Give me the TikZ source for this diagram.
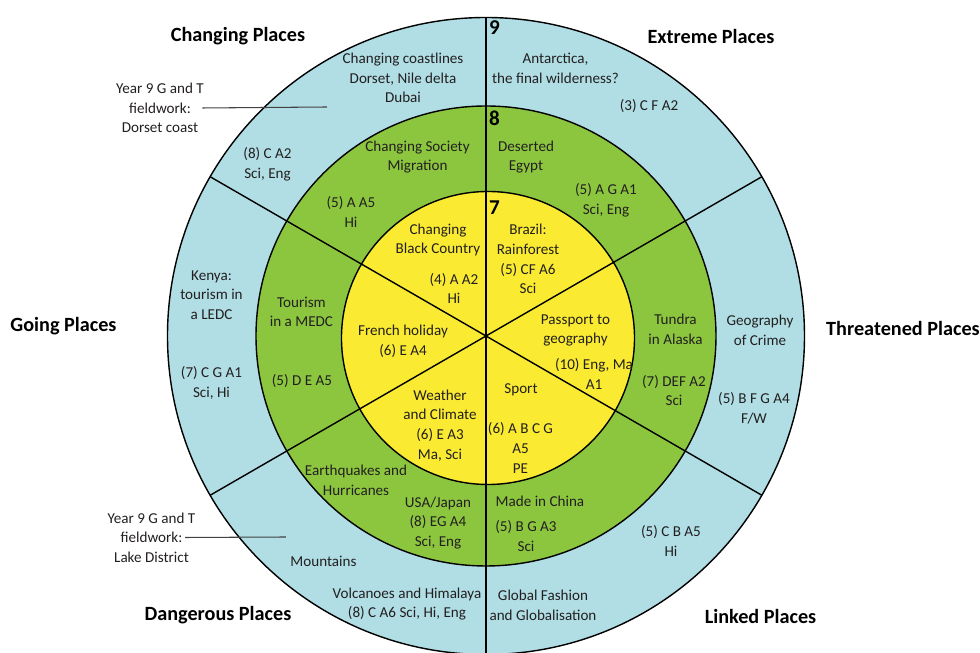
\documentclass[tikz,border=0pt]{standalone}
\usepackage{fontspec}
\setmainfont{Carlito}
\usepackage{tikz}
\usetikzlibrary{positioning}

\definecolor{ringblue}{RGB}{176,222,228}
\definecolor{ringgreen}{RGB}{140,198,63}
\definecolor{ringyellow}{RGB}{250,235,50}
\definecolor{inkgrey}{RGB}{35,31,32}

\begin{document}
\begin{tikzpicture}[lbl/.style={align=center, inner sep=0pt, text=inkgrey, font=\fontsize{8.6}{11.2}\selectfont},
  place/.style={inner sep=0pt, font=\fontsize{11.5}{14}\selectfont\bfseries},
  year/.style={anchor=west, inner sep=1pt, font=\fontsize{12}{14}\selectfont\bfseries}]

\useasboundingbox (-9.72,-6.34) rectangle (9.88,6.72);

% the three rings
\draw[line width=0.8pt, fill=ringblue] (0,0) circle (6.37);
\draw[line width=0.8pt, fill=ringgreen] (0,0) circle (4.6);
\draw[line width=0.8pt, fill=ringyellow] (0.04,-0.04) circle (2.93);

% spokes
\draw[line width=0.8pt] (90:6.37) -- (270:6.37);
\draw[line width=0.8pt] (150:6.37) -- (-30:6.37);
\draw[line width=0.8pt] (30:6.37) -- (210:6.37);

\node[year] at (0.02,6.16) (y9) {9};
\node[year] at (0.02,4.36) (y8) {8};
\node[year] at (0.02,2.56) (y7) {7};

\node[place] at (-4.96,5.99) (tc) {Changing Places};
\node[place] at (4.5,6.0) (te) {Extreme Places};
\node[place] at (-8.45,0.19) (tg) {Going Places};
\node[place] at (8.34,0.16) (tt) {Threatened Places};
\node[place] at (-5.36,-5.58) (td) {Dangerous Places};
\node[place] at (5.49,-5.61) (tl) {Linked Places};

% outer ring
\node[lbl] at (-1.66,5.16) (b1) {Changing coastlines\\Dorset, Nile delta\\Dubai};
\node[lbl] at (-4.37,3.44) (b2) {(8) C A2\\Sci, Eng};
\node[lbl] at (1.39,5.35) (b3) {Antarctica,\\the final wilderness?};
\node[lbl] at (3.26,4.6) (b4) {(3) C F A2};
\node[lbl] at (-5.49,0.82) (b5) {Kenya:\\tourism in\\a LEDC};
\node[lbl] at (-5.49,-0.94) (b6) {(7) C G A1\\Sci, Hi};
\node[lbl] at (5.48,0.12) (b7) {Geography\\of Crime};
\node[lbl] at (5.36,-1.44) (b8) {(5) B F G A4\\F/W};
\node[lbl] at (-3.25,-4.51) (b9) {Mountains};
\node[lbl] at (-1.58,-5.36) (b10) {Volcanoes and Himalaya\\(8) C A6 Sci, Hi, Eng};
\node[lbl] at (1.14,-5.38) (b11) {Global Fashion\\and Globalisation};
\node[lbl] at (3.7,-4.1) (b12) {(5) C B A5\\Hi};

% middle ring
\node[lbl] at (-1.37,3.58) (g1) {Changing Society\\Migration};
\node[lbl] at (-2.7,2.48) (g2) {(5) A A5\\Hi};
\node[lbl] at (0.8,3.58) (g3) {Deserted\\Egypt};
\node[lbl] at (2.4,2.72) (g4) {(5) A G A1\\Sci, Eng};
\node[lbl] at (-3.69,0.48) (g5) {Tourism\\in a MEDC};
\node[lbl] at (-3.68,-0.9) (g6) {(5) D E A5};
\node[lbl] at (3.79,0.13) (g7) {Tundra\\in Alaska};
\node[lbl] at (3.76,-1.09) (g8) {(7) DEF A2\\Sci};
\node[lbl] at (-2.6,-2.88) (g9) {Earthquakes and\\Hurricanes};
\node[lbl] at (-0.96,-3.74) (g10) {USA/Japan\\(8) EG A4\\Sci, Eng};
\node[lbl] at (1.08,-3.31) (g11) {Made in China};
\node[lbl] at (0.8,-4.0) (g12) {(5) B G A3\\Sci};

% inner circle
\node[lbl] at (-0.96,1.92) (c1) {Changing\\Black Country};
\node[lbl] at (-0.64,0.95) (c2) {(4) A A2\\Hi};
\node[lbl] at (0.84,1.54) (c3) {Brazil:\\Rainforest\\(5) CF A6\\Sci};
\node[lbl] at (-1.66,-0.11) (c4) {French holiday\\(6) E A4};
\node[lbl] at (1.79,0.11) (c5) {Passport to\\geography};
\node[lbl] at (2.16,-0.76) (c6) {(10) Eng, Ma\\A1};
\node[lbl] at (0.7,-1.08) (c7) {Sport};
\node[lbl] at (0.69,-2.24) (c8) {(6) A B C G\\A5\\PE};
\node[lbl] at (-0.92,-1.79) (c9) {Weather\\and Climate\\(6) E A3\\Ma, Sci};

% fieldwork notes
\node[lbl] at (-6.52,4.56) (fa) {Year 9 G and T\\fieldwork:\\Dorset coast};
\node[lbl] at (-6.69,-4.03) (fb) {Year 9 G and T\\fieldwork:\\Lake District};
\coordinate (fae) at (-3.18,4.58);
\coordinate (fbe) at (-4.0,-4.02);
\draw[inkgrey!85, line width=0.6pt] ([xshift=-1pt]fa.east) -- (fae);
\draw[inkgrey!85, line width=0.6pt] ([xshift=-6pt]fb.east) -- (fbe);

\end{tikzpicture}
\end{document}
